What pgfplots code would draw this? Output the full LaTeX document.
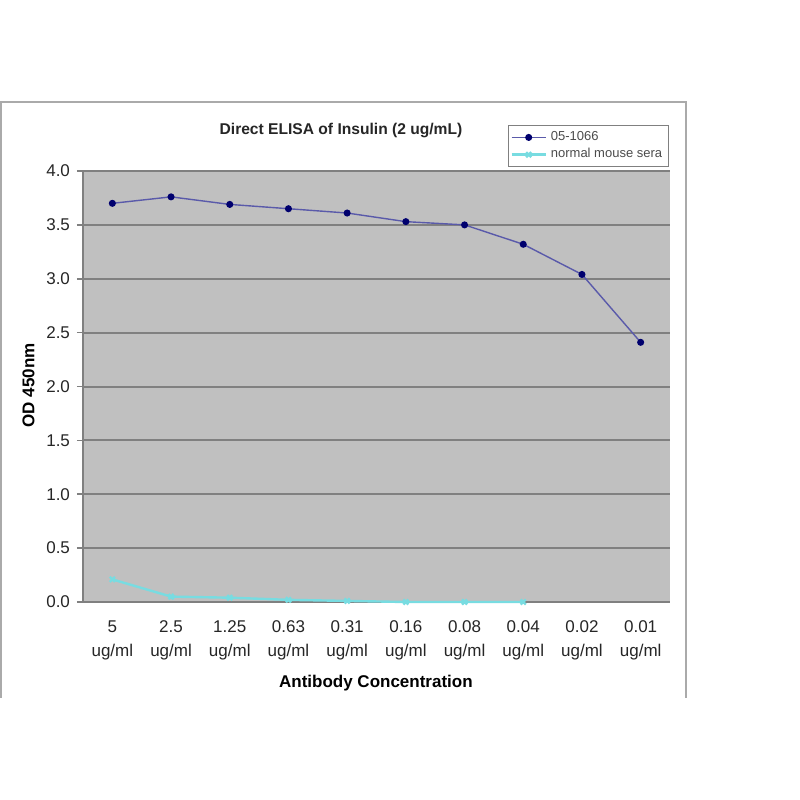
\documentclass[border=0pt]{standalone}
\usepackage{fontspec}
\setmainfont{Liberation Sans}
\usepackage{pgfplots}
\pgfplotsset{compat=1.18}
\definecolor{plotbg}{RGB}{192,192,192}
\definecolor{gridc}{RGB}{128,128,128}
\definecolor{navyc}{RGB}{0,0,110}
\definecolor{linec}{RGB}{90,90,170}
\definecolor{cyanc}{RGB}{120,220,225}
\definecolor{framec}{RGB}{170,170,170}
\begin{document}
\begin{tikzpicture}
\fill[white] (0,0) rectangle (400pt,400pt);
\draw[framec, line width=0.8pt] (0.6pt,51pt) -- (0.6pt,349pt) -- (343pt,349pt) -- (343pt,51pt);
\begin{axis}[
  at={(41.5pt,99pt)}, anchor=south west,
  scale only axis, width=293.5pt, height=215.5pt,
  xmin=-0.5, xmax=9.5, ymin=0, ymax=4,
  axis background/.style={fill=plotbg},
  axis lines*=left,
  axis line style={gridc, line width=0.8pt},
  tick align=outside,
  major tick length=3pt,
  tick style={gridc, line width=0.8pt},
  ytick={0,0.5,...,4},
  yticklabel style={/pgf/number format/.cd, fixed, fixed zerofill, precision=1},
  /pgf/number format/assume math mode=true,
  ymajorgrids,
  grid style={gridc, line width=1pt},
  xtick={0,...,9},
  xticklabels={{5\\ug/ml},{2.5\\ug/ml},{1.25\\ug/ml},{0.63\\ug/ml},{0.31\\ug/ml},{0.16\\ug/ml},{0.08\\ug/ml},{0.04\\ug/ml},{0.02\\ug/ml},{0.01\\ug/ml}},
  xticklabel style={align=center, font=\fontsize{8.5}{12}\selectfont, text=black!85, yshift=-3pt},
  x tick style={draw=none},
  extra x ticks={-0.5,0.5,...,9.5},
  extra x tick labels={},
  extra x tick style={tick style={gridc, line width=0.8pt}, major tick length=3pt, xmajorgrids=false},
  ticklabel style={font=\fontsize{8.5}{12}\selectfont, text=black!85},
  every axis title shift=0pt,
  title={\textbf{Direct ELISA of Insulin (2 ug/mL)}},
  title style={at={(0.4395,1.095)}, anchor=center, font=\fontsize{7.8}{9}\selectfont, text=black!85},
  xlabel={\textbf{Antibody Concentration}},
  xlabel style={at={(0.499,-0.188)}, anchor=center, font=\fontsize{8.5}{10}\selectfont},
  ylabel={\textbf{OD 450nm}},
  ylabel style={at={(-0.093,0.503)}, anchor=center, rotate=0, font=\fontsize{8.5}{10}\selectfont},
  legend style={at={(0.724,1.107)}, anchor=north west, draw=gridc, line width=0.5pt, fill=white,
    font=\fontsize{6.5}{7}\selectfont, text=black!70, row sep=-1.5pt, inner xsep=1pt, inner ysep=1pt,
    cells={anchor=west}},
  legend cell align=left,
  legend image code/.code={\draw[#1] (0pt,0pt) -- (17pt,0pt); \draw[#1, only marks] plot coordinates {(8.5pt,0pt)};},
  clip=false,
]
\addplot[linec, line width=0.7pt, mark=*, mark size=1.4pt, mark options={fill=navyc, draw=navyc, solid}]
  coordinates {(0,3.70) (1,3.76) (2,3.69) (3,3.65) (4,3.61) (5,3.53) (6,3.50) (7,3.32) (8,3.04) (9,2.41)};
\addlegendentry{05-1066}
\addplot[cyanc, line width=1.2pt, mark=x, mark size=1.8pt, mark options={cyanc, solid}]
  coordinates {(0,0.21) (1,0.05) (2,0.04) (3,0.02) (4,0.01) (5,0.0) (6,0.0) (7,0.0)};
\addlegendentry{normal mouse sera}
\end{axis}
\end{tikzpicture}
\end{document}
